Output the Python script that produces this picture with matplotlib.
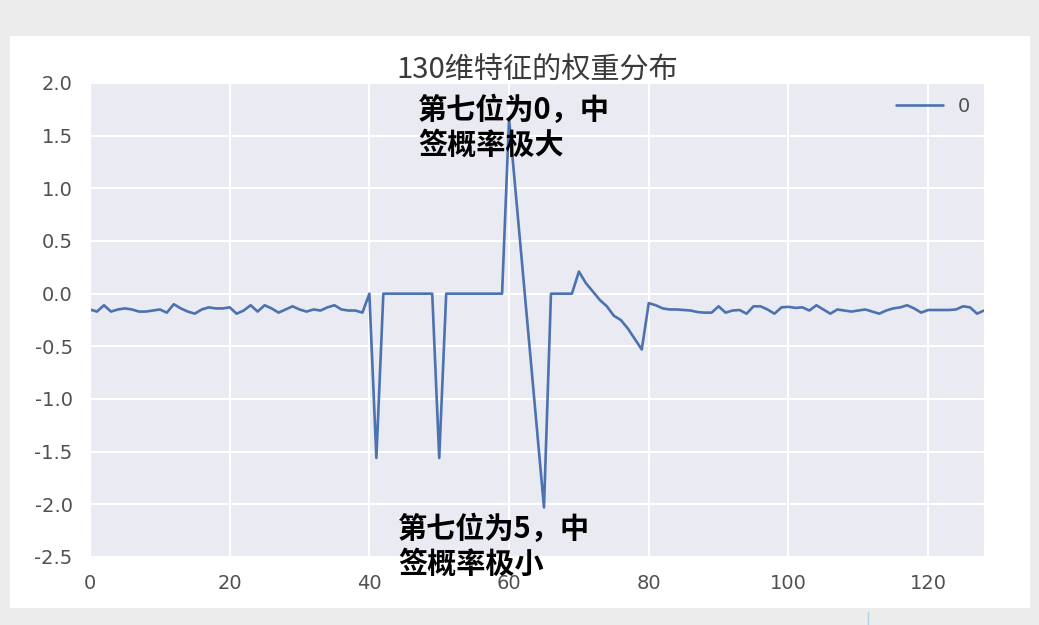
import numpy as np
import matplotlib
matplotlib.use("Agg")
import matplotlib.pyplot as plt
import seaborn as sns
from matplotlib.patches import Rectangle
from matplotlib.lines import Line2D

# weights of each feature dimension
w_head = [-0.15, -0.17, -0.11, -0.17, -0.15, -0.14, -0.15, -0.17, -0.17, -0.16,
          -0.15, -0.18, -0.10, -0.14, -0.17, -0.19, -0.15, -0.13, -0.14, -0.14,
          -0.13, -0.19, -0.16, -0.11, -0.17, -0.11, -0.14, -0.18, -0.15, -0.12,
          -0.15, -0.17, -0.15, -0.16, -0.13, -0.11, -0.15, -0.16, -0.16, -0.18]
w_mid = [0.0, -1.56, 0.0, 0.0, 0.0, 0.0, 0.0, 0.0, 0.0, 0.0,
         -1.56, 0.0, 0.0, 0.0, 0.0, 0.0, 0.0, 0.0, 0.0, 0.0,
         1.66, 0.92, 0.18, -0.56, -1.29, -2.03, 0.0, 0.0, 0.0, 0.0,
         0.21, 0.10, 0.02, -0.06, -0.12, -0.21, -0.25, -0.33, -0.43, -0.53,
         -0.09, -0.11, -0.14]
w_tail = [-0.15, -0.15, -0.155, -0.16, -0.175, -0.18, -0.18, -0.12, -0.18, -0.16,
          -0.155, -0.19, -0.12, -0.12, -0.15, -0.19, -0.13, -0.125, -0.135, -0.13,
          -0.16, -0.11, -0.15, -0.19, -0.15, -0.16, -0.17, -0.16, -0.15, -0.17,
          -0.19, -0.16, -0.14, -0.13, -0.11, -0.14, -0.18, -0.155, -0.155, -0.155,
          -0.155, -0.15, -0.12, -0.13, -0.19, -0.16]
weights = w_head + w_mid + w_tail

title = "130维特征的权重分布"
note_top = "第七位为0，中\n签概率极大"
note_bottom = "第七位为5，中\n签概率极小"

sns.set_style("darkgrid")
plt.rcParams['font.family'] = ['DejaVu Sans', 'Noto Sans CJK SC']
plt.rcParams['axes.unicode_minus'] = False

W, H = 1039, 625
fig = plt.figure(figsize=(W / 100, H / 100), dpi=100, facecolor='#ececec')

# white slide card behind the chart
fig.add_artist(Rectangle((10 / W, 1 - 608 / H), (1030 - 10) / W, (608 - 36) / H,
                         transform=fig.transFigure, facecolor='white',
                         edgecolor='none', zorder=0))
fig.add_artist(Line2D([868 / W, 868 / W], [0, 1 - 612 / H], transform=fig.transFigure,
                      color='#a8d4e8', lw=1))

ax = fig.add_axes([90 / W, 1 - 557 / H, (984 - 90) / W, (557 - 83) / H])
x = np.arange(len(weights))
ax.plot(x, weights, color='#4C72B0', lw=1.9, label='0')

ax.set_xlim(0, len(weights) - 1)
ax.set_ylim(-2.5, 2.0)
ax.set_xticks(np.arange(0, 121, 20))
ax.set_yticks(np.arange(-2.5, 2.01, 0.5))
ax.set_yticklabels([f"{v:.1f}" for v in np.arange(-2.5, 2.01, 0.5)])
ax.tick_params(axis='y', labelsize=14, labelcolor='#505050', pad=9)
ax.tick_params(axis='x', labelsize=14, labelcolor='#505050', pad=9)
for g in ax.get_xgridlines() + ax.get_ygridlines():
    g.set_linewidth(1.5)

ax.set_title(title, family=['Noto Sans CJK SC'], fontsize=21, color='#3a3a3a', pad=3)
leg = ax.legend(loc='upper right', frameon=False, fontsize=14, handlelength=2.4,
                borderaxespad=0.3)
for t in leg.get_texts():
    t.set_color('#505050')

fig.text(418 / W, 1 - 95 / H, note_top, family=['Noto Sans CJK SC'], fontsize=21,
         fontweight='bold', color='black', va='top', ha='left', linespacing=1.2)
fig.text(398 / W, 1 - 514 / H, note_bottom, family=['Noto Sans CJK SC'], fontsize=21,
         fontweight='bold', color='black', va='top', ha='left', linespacing=1.2)

fig.savefig('out.png', dpi=100, facecolor=fig.get_facecolor())
